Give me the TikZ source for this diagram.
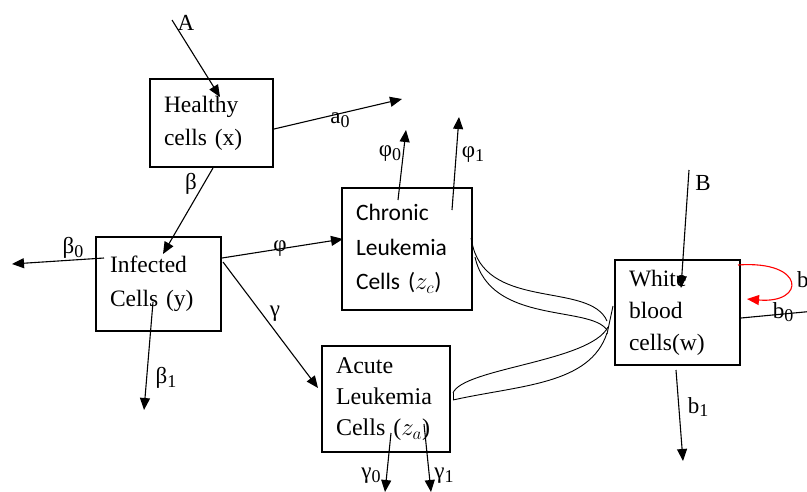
\documentclass[tikz,border=0pt]{standalone}
\usepackage{fontspec}
\setmainfont{Liberation Serif}
\newfontfamily\calib{Carlito}
\usetikzlibrary{arrows.meta}
\newcommand\lsub[1]{\raisebox{-0.35ex}{\fontsize{18}{18}\selectfont #1}}
\begin{document}
\begin{tikzpicture}[x=1pt,y=-1pt,
  box/.style={draw, line width=1.1pt, rectangle, align=left, inner xsep=14pt, inner ysep=0pt},
  arr/.style={line width=1.1pt, -{Triangle[length=12pt,width=10pt]}},
  redarr/.style={red, line width=1.1pt, -{Triangle[length=12pt,width=10pt]}},
  lbl/.style={font=\fontsize{23}{23}\selectfont, inner sep=0pt},
  ln/.style={line width=0.9pt}]
\useasboundingbox (0,0) rectangle (807,491);

% boxes
\node[box, minimum width=123pt, minimum height=88pt, text width=95pt,
      font=\fontsize{23.5}{33}\selectfont] (H) at (211.5,123) {Healthy\\cells (x)};
\node[box, minimum width=125pt, minimum height=94pt, text width=97pt,
      font=\fontsize{23.5}{34}\selectfont] (I) at (158.5,284) {Infected\\Cells (y)};
\node[box, minimum width=130pt, minimum height=122pt, text width=102pt,
      font=\calib\fontsize{23.5}{34.5}\selectfont] (C) at (407,249) {Chronic\\Leukemia\\Cells ($z_c$)};
\node[box, minimum width=128pt, minimum height=106pt, text width=100pt,
      font=\fontsize{24}{31}\selectfont] (Ac) at (386,399) {Acute\\Leukemia\\Cells ($z_a$)};
\node[box, minimum width=125pt, minimum height=105pt, text width=97pt,
      font=\fontsize{23.5}{32}\selectfont] (W) at (677.5,312.5) {White\\blood\\cells(w)};

% coordinates
\coordinate (A0) at (172,20);   \coordinate (A1) at (220,97);
\coordinate (a0s) at (274,129); \coordinate (a0e) at (402,99);
\coordinate (bs) at (213,168);  \coordinate (be) at (163,254);
\coordinate (b0s) at (104,258); \coordinate (b0e) at (12,264);
\coordinate (b1s) at (153,302); \coordinate (b1e) at (144,410);
\coordinate (phs) at (222,258); \coordinate (phe) at (343,239);
\coordinate (gs) at (223,262);  \coordinate (ge) at (318,388);
\coordinate (p0s) at (398,200); \coordinate (p0e) at (406,130);
\coordinate (p1s) at (452,210); \coordinate (p1e) at (459,117);
\coordinate (g0s) at (391,433); \coordinate (g0e) at (385,492);
\coordinate (g1s) at (424,424); \coordinate (g1e) at (431,492);
\coordinate (Bs) at (689,170);  \coordinate (Be) at (681,288);
\coordinate (rs) at (738,265);  \coordinate (re) at (747,299);
\coordinate (wb0s) at (741,318); \coordinate (wb0e) at (815,311);
\coordinate (wb1s) at (676,370); \coordinate (wb1e) at (683,461);
\coordinate (c1s) at (473,247); \coordinate (c2s) at (475,257);
\coordinate (a1s) at (453,393); \coordinate (a2s) at (453,400);
\coordinate (m1) at (607,321);  \coordinate (m2) at (607,330);
\coordinate (m3) at (608,327);  \coordinate (m4) at (607,333);
\coordinate (k1) at (613,306);  \coordinate (k2) at (607,334);
\coordinate (h1) at (471,238);

% arrows
\draw[arr] (A0) -- (A1);
\draw[arr] (a0s) -- (a0e);
\draw[arr] (bs) -- (be);
\draw[arr] (b0s) -- (b0e);
\draw[arr] (b1s) -- (b1e);
\draw[arr] (phs) -- (phe);
\draw[arr] (gs) -- (ge);
\draw[arr] (p0s) -- (p0e);
\draw[arr] (p1s) -- (p1e);
\draw[arr] (g0s) -- (g0e);
\draw[arr] (g1s) -- (g1e);
\draw[arr] (Bs) -- (Be);
\draw[redarr] (rs) .. controls (806,260) and (806,304) .. (re);
\draw[line width=1.1pt] (wb0s) -- (wb0e);
\draw[arr] (wb1s) -- (wb1e);

% curved connectors
\draw[ln] (h1) -- (c1s);
\draw[ln] (c1s) .. controls (490,310) and (590,282) .. (m1);
\draw[ln] (c2s) .. controls (490,325) and (590,305) .. (m2);
\draw[ln] (a1s) .. controls (463,368) and (590,362) .. (m3);
\draw[ln] (a2s) .. controls (520,385) and (590,385) .. (m4);
\draw[ln] (a2s) -- (a1s);
\draw[ln] (k1) -- (k2);

% labels
\node[lbl] at (186,23) {A};
\node[lbl] at (340,120) {a\lsub{0}};
\node[lbl] at (191,184) {β};
\node[lbl] at (73,248) {β\lsub{0}};
\node[lbl] at (166,378) {β\lsub{1}};
\node[lbl] at (280,249) {φ};
\node[lbl] at (275,314) {γ};
\node[lbl] at (390,154) {φ\lsub{0}};
\node[lbl] at (473,155) {φ\lsub{1}};
\node[lbl] at (371,476) {γ\lsub{0}};
\node[lbl] at (444,476) {γ\lsub{1}};
\node[lbl] at (703,183) {B};
\node[lbl, anchor=west] at (797,280) {b};
\node[lbl] at (783,312) {b\lsub{0}};
\node[lbl] at (698,407) {b\lsub{1}};
\end{tikzpicture}
\end{document}
